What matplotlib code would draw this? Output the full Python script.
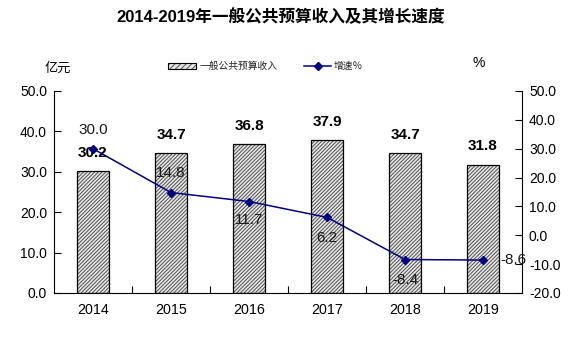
import matplotlib
matplotlib.use("Agg")
import matplotlib.pyplot as plt
from matplotlib.patches import Rectangle
from matplotlib.lines import Line2D

plt.rcParams['font.family'] = ['Liberation Sans', 'Noto Sans CJK SC', 'DejaVu Sans']
plt.rcParams['hatch.linewidth'] = 0.7

years = ["2014", "2015", "2016", "2017", "2018", "2019"]
revenue = [30.2, 34.7, 36.8, 37.9, 34.7, 31.8]
growth = [30.0, 14.8, 11.7, 6.2, -8.4, -8.6]
left_ticks = [0, 10, 20, 30, 40, 50]
right_ticks = [-20, -10, 0, 10, 20, 30, 40, 50]
title = "2014-2019年一般公共预算收入及其增长速度"
bar_name = "一般公共预算收入"
line_name = "增速％"

HATCH = '/////////'
FACE = '#e4e4e4'
HCOL = '#555555'
NAVY = '#000080'

fig = plt.figure(figsize=(5.82, 3.42), dpi=100)
ax = fig.add_axes([0.0928, 0.1433, 0.8042, 0.5907])
x = list(range(len(years)))

ax.bar(x, revenue, width=0.4, color=FACE, edgecolor=HCOL, hatch=HATCH, linewidth=0, zorder=2)
ax.bar(x, revenue, width=0.4, color='none', edgecolor='black', linewidth=0.9, zorder=3)
ax.set_xlim(-0.5, 5.5)
ax.set_ylim(0, 50)
ax.set_yticks(left_ticks)
ax.set_yticklabels([f"{v:.1f}" for v in left_ticks], fontsize=10)
ax.set_xticks(x)
ax.set_xticklabels(years, fontsize=10.3)
ax.tick_params(axis='x', length=0, pad=7)
ax.set_xticks([i + 0.5 for i in range(len(years) - 1)], minor=True)
ax.tick_params(axis='x', which='minor', direction='in', length=5, width=0.8)
ax.tick_params(axis='y', direction='in', length=5, width=0.8, pad=5)
for s in ['top', 'right']:
    ax.spines[s].set_visible(False)
for s in ['left', 'bottom']:
    ax.spines[s].set_linewidth(0.8)

for xi, v in zip(x, revenue):
    ax.annotate(f"{v:.1f}", (xi, v), xytext=(0, 13), textcoords='offset points',
                ha='center', va='center', fontsize=11, fontweight='bold', zorder=5)

ax2 = ax.twinx()
ax2.plot(x, growth, color=NAVY, marker='D', markersize=4.5, linewidth=1.1, zorder=4)
ax2.set_ylim(-20, 50)
ax2.set_yticks(right_ticks)
ax2.set_yticklabels([f"{v:.1f}" for v in right_ticks], fontsize=10)
ax2.tick_params(axis='y', direction='in', length=5, width=0.8, pad=5)
for s in ['top', 'left', 'bottom']:
    ax2.spines[s].set_visible(False)
ax2.spines['right'].set_linewidth(0.8)

offsets = [(0, 13.5, 'center'), (0, 14, 'center'), (0, -13.5, 'center'),
           (0, -14.5, 'center'), (0, -14.5, 'center'), (12.5, 0, 'left')]
for xi, v, (dx, dy, ha) in zip(x, growth, offsets):
    ax2.annotate(f"{v:.1f}", (xi, v), xytext=(dx, dy), textcoords='offset points',
                 ha=ha, va='center', fontsize=11, color='#1a1a1a', zorder=6)

fig.text(0.483, 0.95, title, ha='center', va='center', fontsize=12, fontweight='bold',
         family=['Liberation Sans', 'Noto Sans CJK SC'])
fig.text(0.099, 0.80, "亿元", ha='center', va='center', fontsize=9.5,
         family=['Noto Sans CJK SC'])
fig.text(0.823, 0.815, "%", ha='center', va='center', fontsize=10)

# legend
leg_y = 1 - 66 / 342
fig.patches.append(Rectangle((168 / 582, leg_y - 3 / 342), 28 / 582, 6 / 342, transform=fig.transFigure,
                             facecolor=FACE, edgecolor=HCOL, hatch='//////', linewidth=0))
fig.patches.append(Rectangle((168 / 582, leg_y - 3 / 342), 28 / 582, 6 / 342, transform=fig.transFigure,
                             facecolor='none', edgecolor='black', linewidth=0.8))
fig.text(200 / 582, leg_y, bar_name, ha='left', va='center', fontsize=7,
         family=['Noto Sans CJK SC'], color='#222222')
fig.lines.append(Line2D([304 / 582, 331 / 582], [leg_y, leg_y], transform=fig.transFigure,
                        color=NAVY, linewidth=1.1))
fig.lines.append(Line2D([318 / 582], [leg_y], transform=fig.transFigure,
                        color=NAVY, marker='D', markersize=4.5, linestyle='none'))
fig.text(334 / 582, leg_y, line_name, ha='left', va='center', fontsize=7,
         family=['Noto Sans CJK SC'], color='#222222')

fig.savefig("out.png", dpi=100)
